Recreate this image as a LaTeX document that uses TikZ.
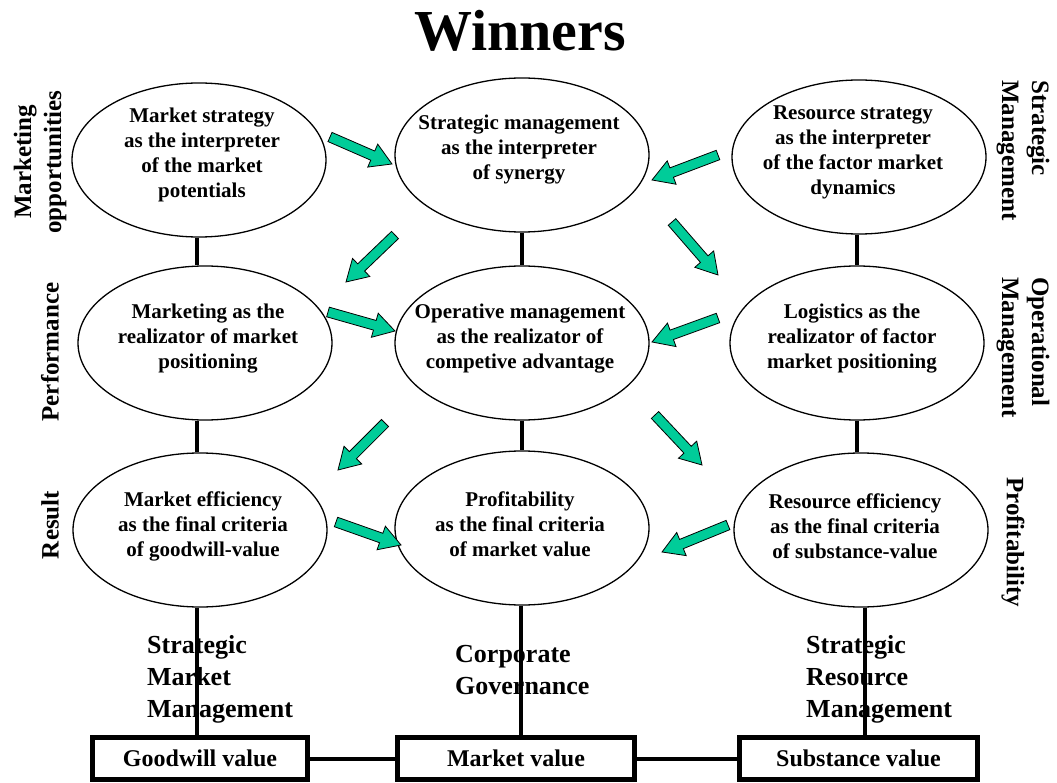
\documentclass[tikz,border=0pt]{standalone}
\usepackage{fontspec}
\setmainfont{Liberation Serif}
\usetikzlibrary{shapes.geometric}
\definecolor{arrowgreen}{RGB}{0,204,153}

\tikzset{
  oval/.style={ellipse, draw, line width=1.3pt, minimum width=254pt, minimum height=154pt, inner sep=0pt},
  ovaltext/.style={align=center, inner sep=0pt, font=\fontsize{21}{25}\selectfont\bfseries},
  link/.style={line width=4pt},
  valbox/.style={draw, line width=5pt, minimum width=#1, minimum height=42pt, inner sep=0pt,
                 font=\fontsize{24}{28}\selectfont\bfseries},
  sidelabel/.style={inner sep=0pt, font=\fontsize{25}{30}\selectfont\bfseries},
  basetext/.style={inner sep=0pt, align=left, font=\fontsize{26}{32}\selectfont\bfseries},
  blockarrow/.style={draw=black, line width=0.8pt, fill=arrowgreen, line join=miter},
}

% green block arrow from (#1,#2) to (#3,#4)
\newcommand\greenarrow[4]{%
  \pgfmathsetmacro\gaang{atan2(-(#4-#2),#3-#1)}%
  \pgfmathsetmacro\galen{veclen(#3-#1,#4-#2)}%
  \pgfmathsetmacro\gabase{\galen-21}%
  \draw[blockarrow, shift={(#1,#2)}, rotate=\gaang]
    (0,-5) -- (\gabase,-5) -- (\gabase,-12.5) -- (\galen,0)
    -- (\gabase,12.5) -- (\gabase,5) -- (0,5) -- cycle;}

\begin{document}
\begin{tikzpicture}[x=1pt, y=-1pt]
\useasboundingbox (0,0) rectangle (1057,783);

% title
\node[inner sep=0pt, anchor=base, font=\fontsize{58}{64}\selectfont\bfseries] (title) at (520,51) {Winners};

% ellipses
\node[oval] (ms) at (199,160) {};
\node[oval] (sm) at (522,155) {};
\node[oval] (rs) at (859,157) {};
\node[oval] (mk) at (205,343) {};
\node[oval] (om) at (522,343) {};
\node[oval] (lg) at (857,343) {};
\node[oval] (me) at (200,530) {};
\node[oval] (pf) at (522,528) {};
\node[oval] (re) at (861,530) {};

\node[ovaltext] at ([xshift=3,yshift=5]ms.center) {Market strategy\\as the interpreter\\of the market\\potentials};
\node[ovaltext] at ([xshift=-3,yshift=5]sm.center) {Strategic management\\as the interpreter\\of synergy};
\node[ovaltext] at ([xshift=-6,yshift=5]rs.center) {Resource strategy\\as the interpreter\\of the factor market\\dynamics};
\node[ovaltext] at ([xshift=3,yshift=4]mk.center) {Marketing as the\\realizator of market\\positioning};
\node[ovaltext] at ([xshift=-2,yshift=4]om.center) {Operative management\\as the realizator of\\competive advantage};
\node[ovaltext] at ([xshift=-5,yshift=4]lg.center) {Logistics as the\\realizator of factor\\market positioning};
\node[ovaltext] at ([xshift=3,yshift=4]me.center) {Market efficiency\\as the final criteria\\of goodwill-value};
\node[ovaltext] at ([xshift=-2,yshift=4]pf.center) {Profitability\\as the final criteria\\of market value};
\node[ovaltext] at ([xshift=-6,yshift=4]re.center) {Resource efficiency\\as the final criteria\\of substance-value};

% value boxes
\node[valbox=215pt] (gw) at (200,758.5) {Goodwill value};
\node[valbox=237pt] (mv) at (516,758.5) {Market value};
\node[valbox=238pt] (sv) at (858.5,758.5) {Substance value};

% vertical links
\draw[link] ([xshift=-2]ms.south) -- ([xshift=-2]ms.south |- mk.north);
\draw[link] (sm.south) -- (sm.south |- om.north);
\draw[link] ([xshift=-2]rs.south) -- ([xshift=-2]rs.south |- lg.north);
\draw[link] ([xshift=-2]ms.south |- mk.south) -- ([xshift=-2]ms.south |- me.north);
\draw[link] (om.south) -- (om.south |- pf.north);
\draw[link] (lg.south) -- (lg.south |- re.north);
\draw[link] ([xshift=-3]me.south) -- ([xshift=-3]me.south |- gw.north);
\draw[link] ([xshift=-1]pf.south) -- ([xshift=-1]pf.south |- mv.north);
\draw[link] ([xshift=4]re.south) -- ([xshift=4]re.south |- sv.north);

% horizontal links between the boxes
\draw[link] (gw.east) -- (mv.west);
\draw[link] (mv.east) -- (sv.west);

% labels under the bottom row
\node[basetext, anchor=north west] (sml) at (147,635) {Strategic\\Market\\Management};
\node[basetext, anchor=north west] (cgl) at (455,645) {Corporate\\Governance};
\node[basetext, anchor=north west] (srl) at (806,635) {Strategic\\Resource\\Management};

% left side labels
\node[sidelabel, rotate=90, align=center] (lmo) at (40,162) {Marketing\\opportunities};
\node[sidelabel, rotate=90] (lpe) at (50,352) {Performance};
\node[sidelabel, rotate=90] (lre) at (50,525) {Result};

% right side labels
\node[sidelabel, rotate=-90, align=left, anchor=west] (rsm) at (1023,80) {Strategic\\Management};
\node[sidelabel, rotate=-90, align=left, anchor=west] (rom) at (1023,277) {Operational\\Management};
\node[sidelabel, rotate=-90, anchor=west] (rpr) at (1013,477) {Profitability};

% green block arrows
\greenarrow{330}{137}{392}{164}
\greenarrow{395}{235}{346}{282}
\greenarrow{718}{155}{652}{180}
\greenarrow{672}{222}{718}{275}
\greenarrow{328}{312}{395}{331}
\greenarrow{718}{318}{652}{342}
\greenarrow{385}{423}{338}{470}
\greenarrow{655}{415}{702}{465}
\greenarrow{728}{525}{662}{552}
\greenarrow{336}{522}{401}{545}
\end{tikzpicture}
\end{document}
